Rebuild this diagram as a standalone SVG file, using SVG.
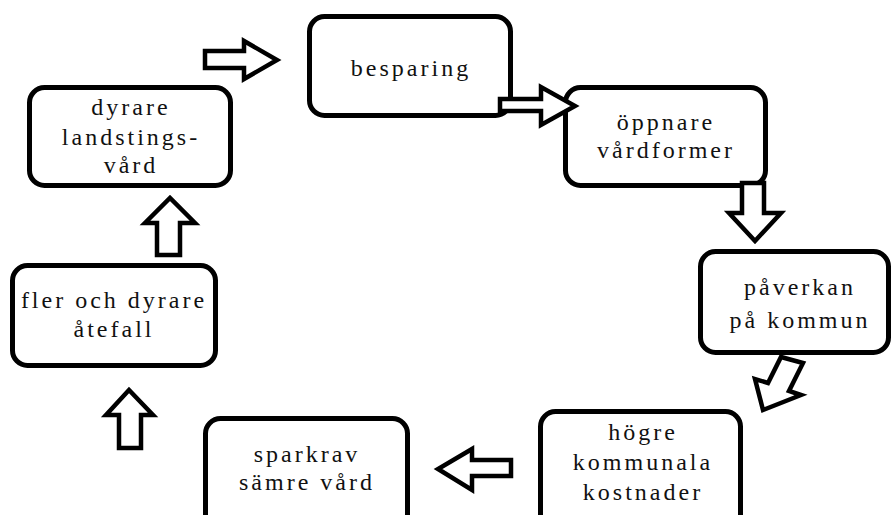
<svg xmlns="http://www.w3.org/2000/svg" width="893" height="515" viewBox="0 0 893 515">
<style>
.box{fill:#fff;stroke:#000;stroke-width:5}
.arr{fill:#fff;stroke:#000;stroke-width:4.5;stroke-linejoin:miter}
.t{font-family:'Liberation Serif','Times New Roman',serif;font-size:24px;letter-spacing:3px;fill:#111;text-anchor:middle}
</style>
<rect width="893" height="515" fill="#fff"/>
<g id="besparing">
<rect class="box" x="309.5" y="16.5" width="201" height="99" rx="15"/>
<text class="t" x="411" y="76">besparing</text>
</g>
<g id="oppnare">
<rect class="box" x="565.5" y="87.5" width="200" height="98" rx="15"/>
<text class="t" x="666" y="130">öppnare</text>
<text class="t" x="666" y="158">vårdformer</text>
</g>
<g id="paverkan">
<rect class="box" x="700.5" y="251.5" width="188" height="101" rx="15"/>
<text class="t" x="800" y="295">påverkan</text>
<text class="t" x="800" y="328">på kommun</text>
</g>
<g id="hogre">
<rect class="box" x="540.5" y="411.5" width="200" height="120" rx="15"/>
<text class="t" x="643" y="440">högre</text>
<text class="t" x="643" y="470">kommunala</text>
<text class="t" x="643" y="500">kostnader</text>
</g>
<g id="sparkrav">
<rect class="box" x="205.5" y="418.5" width="202" height="120" rx="15"/>
<text class="t" x="307" y="462">sparkrav</text>
<text class="t" x="307" y="490">sämre vård</text>
</g>
<g id="fler">
<rect class="box" x="12.5" y="265.5" width="203" height="100" rx="15"/>
<text class="t" x="114" y="308">fler och dyrare</text>
<text class="t" x="114" y="337">åtefall</text>
</g>
<g id="dyrare">
<rect class="box" x="29.5" y="87.5" width="201" height="98" rx="15"/>
<text class="t" x="131" y="115">dyrare</text>
<text class="t" x="131" y="145">landstings-</text>
<text class="t" x="131" y="173">vård</text>
</g>
<g id="connectors">
<path class="arr" d="M205,51 L244,51 L244,41 L277,60 L244,79 L244,68 L205,68 Z"/>
<path class="arr" d="M500,99 L541,99 L541,87 L575,106 L541,125 L541,111 L500,111 Z"/>
<path class="arr" d="M742,183 L764,183 L764,213 L781,213 L755,241 L729,213 L742,213 Z"/>
<path class="arr" d="M781,357 L803,363 L789,391 L801,395 L763,410 L755,379 L768,383 Z"/>
<path class="arr" d="M511,460 L472,460 L472,449 L438,469 L472,490 L472,476 L511,476 Z"/>
<path class="arr" d="M119,448 L119,415 L106,415 L129,390 L153,415 L141,415 L141,448 Z"/>
<path class="arr" d="M157,255 L157,223 L145,223 L170,198 L195,223 L180,223 L180,255 Z"/>
</g>
</svg>
